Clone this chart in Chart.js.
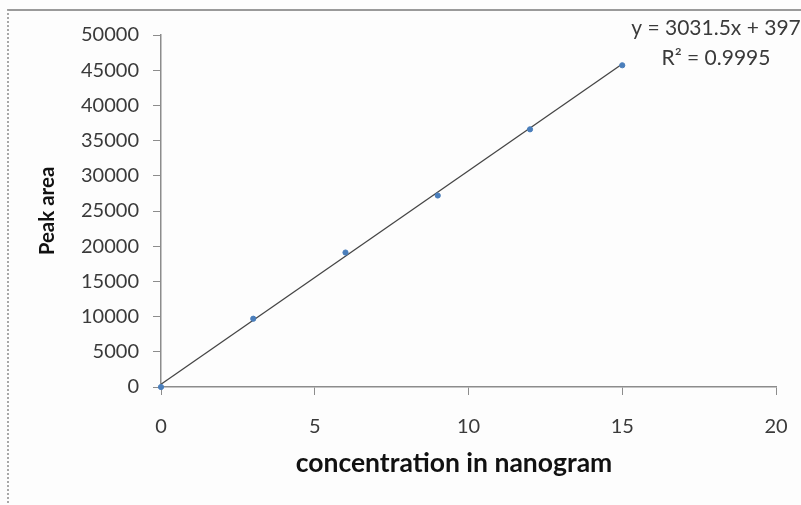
<!DOCTYPE html>
<html>
<head>
<meta charset="utf-8">
<script src="https://cdn.jsdelivr.net/npm/chart.js@4.4.1/dist/chart.umd.min.js"></script>
<style>
    html, body { margin: 0; padding: 0; background: #fdfdfd; }
    .wrap { position: relative; width: 801px; height: 505px; overflow: hidden; }
    .frame {
        position: absolute; left: 7px; top: 9px; width: 800px; height: 500px;
        border-top: 2px solid #9a9a9a; border-left: 2px dotted #a8a8a8;
    }
    canvas { position: absolute; left: 0; top: 0; }
</style>
</head>
<body>
<div class="wrap">
    <div class="frame"></div>
    <canvas id="calChart" width="801" height="505"></canvas>
</div>
<script>
// Data
const concentration = [0, 3, 6, 9, 12, 15];
const peakArea = [0, 9700, 19100, 27200, 36600, 45700];

// Linear fit as printed on the chart
const slope = 3031.5;
const intercept = 397;
const fitRange = [0, 15];
const eqLines = ['y = 3031.5x + 397', 'R\u00b2 = 0.9995'];

const xTicks = [0, 5, 10, 15, 20];
const yTicks = [0, 5000, 10000, 15000, 20000, 25000, 30000, 35000, 40000, 45000, 50000];
const xTitle = 'concentration in nanogram';
const yTitle = 'Peak area';

const axisGray = '#8c8c8c';
const textGray = '#3a3a3a';
const fontFam = 'Lato, "Open Sans", sans-serif';

// Draws the trendline equation and the x axis title (which sits a bit left of centre)
const extraText = {
    id: 'extraText',
    afterDraw(chart) {
        const { ctx, chartArea } = chart;
        ctx.save();
        ctx.font = '21px ' + fontFam;
        ctx.fillStyle = textGray;
        ctx.textAlign = 'center';
        ctx.textBaseline = 'alphabetic';
        const cx = chartArea.right - 60;
        ctx.fillText(eqLines[0], cx, chartArea.top - 0.5);
        ctx.fillText(eqLines[1], cx, chartArea.top + 29.5);

        ctx.font = 'bold 26.5px ' + fontFam;
        ctx.fillStyle = '#111';
        ctx.textBaseline = 'middle';
        ctx.fillText(xTitle, chartArea.left + 293, chartArea.bottom + 76);
        ctx.restore();
    }
};

const points = concentration.map((x, i) => ({ x: x, y: peakArea[i] }));
const fitLine = fitRange.map(x => ({ x: x, y: slope * x + intercept }));

new Chart(document.getElementById('calChart'), {
    type: 'scatter',
    data: {
        datasets: [
            {
                type: 'line',
                data: fitLine,
                borderColor: '#454545',
                borderWidth: 1.3,
                pointRadius: 0,
                fill: false,
                order: 2
            },
            {
                data: points,
                backgroundColor: '#4a7ebb',
                borderColor: '#4a7ebb',
                pointRadius: 2.6,
                clip: false,
                order: 1
            }
        ]
    },
    plugins: [extraText],
    options: {
        responsive: false,
        animation: false,
        layout: { padding: { top: 35, right: 25, left: 0, bottom: 0 } },
        plugins: { legend: { display: false }, tooltip: { enabled: false } },
        scales: {
            x: {
                type: 'linear',
                min: 0, max: 20,
                afterBuildTicks: (s) => { s.ticks = xTicks.map(v => ({ value: v })); },
                afterFit: (s) => { s.height = 118; s.paddingLeft = 0; s.paddingRight = 0; },
                grid: { display: true, drawOnChartArea: false, drawTicks: true, tickLength: 8, color: axisGray },
                border: { color: axisGray, width: 1.5 },
                ticks: { color: textGray, font: { family: fontFam, size: 20 }, padding: 20 }
            },
            y: {
                min: 0, max: 50000,
                afterBuildTicks: (s) => { s.ticks = yTicks.map(v => ({ value: v })); },
                afterFit: (s) => { s.width = 161; },
                grid: { display: true, drawOnChartArea: false, drawTicks: true, tickLength: 8, color: axisGray },
                border: { color: axisGray, width: 1.5 },
                ticks: {
                    color: textGray,
                    font: { family: fontFam, size: 20 },
                    padding: 14,
                    callback: (v) => String(v)
                },
                title: {
                    display: true,
                    text: yTitle,
                    color: '#111',
                    font: { family: fontFam, size: 20.5, weight: 'bold' },
                    padding: { top: 35 }
                }
            }
        }
    }
});
</script>
</body>
</html>
